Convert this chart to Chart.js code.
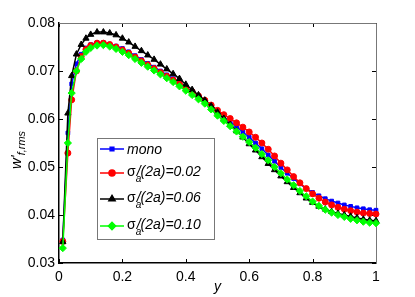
<!DOCTYPE html>
<html>
<head>
<meta charset="utf-8">
<script src="https://cdn.jsdelivr.net/npm/chart.js@4/dist/chart.umd.min.js"></script>
<style>
  html, body { margin: 0; padding: 0; background: #fff; }
  #wrap { width: 415px; height: 297px; position: relative; }
</style>
</head>
<body>
<div id="wrap"><canvas id="c"></canvas></div>
<script>
// wall-normal position y
const yPos = [0.012, 0.028, 0.04, 0.055, 0.07, 0.085, 0.10,
  0.12, 0.14, 0.16, 0.18, 0.20,
  0.22, 0.24, 0.26, 0.28, 0.30, 0.32, 0.34, 0.36, 0.38, 0.40,
  0.42, 0.44, 0.46, 0.48, 0.50,
  0.52, 0.54, 0.56, 0.58, 0.60, 0.62, 0.64, 0.66, 0.68, 0.70,
  0.72, 0.74, 0.76, 0.78, 0.80,
  0.82, 0.84, 0.86, 0.88, 0.90, 0.92, 0.94, 0.96, 0.98, 1.00];

const mono = [0.0348, 0.0571, 0.0673, 0.0715, 0.0735, 0.0748, 0.0755,
  0.0759, 0.0759, 0.0756, 0.0752, 0.0747,
  0.0740, 0.0732, 0.0724, 0.0716, 0.0708, 0.0700, 0.0692, 0.0684, 0.0675, 0.0666,
  0.0657, 0.0647, 0.0637, 0.0626, 0.0612,
  0.0604, 0.0594, 0.0584, 0.0573, 0.0562, 0.0550, 0.0538, 0.0525, 0.0512, 0.0499,
  0.0487, 0.0476, 0.0465, 0.0455, 0.0447,
  0.0440, 0.0434, 0.0429, 0.0425, 0.0421, 0.0418, 0.0415, 0.0413, 0.0411, 0.0410];

const sig002 = [0.0345, 0.0529, 0.0640, 0.0700, 0.0730, 0.0745, 0.0753,
  0.0758, 0.0758, 0.0755, 0.0750, 0.0744,
  0.0737, 0.0729, 0.0721, 0.0713, 0.0705, 0.0697, 0.0689, 0.0681, 0.0673, 0.0665,
  0.0657, 0.0648, 0.0639, 0.0629, 0.0618,
  0.0609, 0.0601, 0.0592, 0.0583, 0.0573, 0.0562, 0.0550, 0.0537, 0.0523, 0.0508,
  0.0494, 0.0480, 0.0467, 0.0455, 0.0444,
  0.0435, 0.0427, 0.0421, 0.0416, 0.0412, 0.0409, 0.0406, 0.0404, 0.0403, 0.0402];

const sig006 = [0.0344, 0.0612, 0.0690, 0.0735, 0.0755, 0.0768, 0.0776,
  0.0781, 0.0781, 0.0779, 0.0775, 0.0768,
  0.0760, 0.0751, 0.0742, 0.0733, 0.0724, 0.0714, 0.0704, 0.0694, 0.0684, 0.0672,
  0.0661, 0.0650, 0.0639, 0.0627, 0.0614,
  0.0601, 0.0588, 0.0575, 0.0562, 0.0548, 0.0535, 0.0521, 0.0507, 0.0494, 0.0481,
  0.0469, 0.0457, 0.0446, 0.0435, 0.0426,
  0.0418, 0.0412, 0.0407, 0.0403, 0.0400, 0.0397, 0.0394, 0.0391, 0.0389, 0.0388];

const sig010 = [0.0331, 0.0550, 0.0654, 0.0700, 0.0725, 0.0740, 0.0748,
  0.0753, 0.0754, 0.0751, 0.0746, 0.0740,
  0.0733, 0.0725, 0.0717, 0.0709, 0.0701, 0.0693, 0.0685, 0.0677, 0.0668, 0.0659,
  0.0650, 0.0641, 0.0632, 0.0620, 0.0607,
  0.0596, 0.0585, 0.0574, 0.0563, 0.0552, 0.0540, 0.0527, 0.0514, 0.0500, 0.0487,
  0.0474, 0.0462, 0.0450, 0.0439, 0.0428,
  0.0419, 0.0411, 0.0405, 0.0400, 0.0396, 0.0392, 0.0389, 0.0386, 0.0384, 0.0383];

const xTicks = [0, 0.2, 0.4, 0.6, 0.8, 1];
const yTicks = [0.03, 0.04, 0.05, 0.06, 0.07, 0.08];

const FONT = "'Liberation Sans', Arial, sans-serif";

const series = [
  { key: 'mono', data: mono, color: '#0000ff', style: 'rect', r: 2.6, order: 4 },
  { key: '0.02', data: sig002, color: '#ff0000', style: 'circle', r: 3, order: 3 },
  { key: '0.06', data: sig006, color: '#000000', style: 'triangle', r: 3.6, order: 2 },
  { key: '0.10', data: sig010, color: '#00ff00', style: 'rectRot', r: 3.6, order: 1 },
];

function toPoints(vals) {
  return yPos.map((x, i) => ({ x, y: vals[i] }));
}

// inward ticks on all four sides + box + axis titles + legend
const matlabFrame = {
  id: 'matlabFrame',
  beforeDatasetsDraw(chart) {
    const { ctx, chartArea: a, scales } = chart;
    ctx.save();
    ctx.strokeStyle = '#000';
    ctx.lineWidth = 1;
    ctx.beginPath();
    xTicks.forEach(v => {
      const px = Math.round(scales.x.getPixelForValue(v)) + 0.5;
      ctx.moveTo(px, a.bottom); ctx.lineTo(px, a.bottom - 4);
      ctx.moveTo(px, a.top); ctx.lineTo(px, a.top + 4);
    });
    yTicks.forEach(v => {
      const py = Math.round(scales.y.getPixelForValue(v)) + 0.5;
      ctx.moveTo(a.left, py); ctx.lineTo(a.left + 4, py);
      ctx.moveTo(a.right, py); ctx.lineTo(a.right - 4, py);
    });
    ctx.stroke();
    ctx.strokeStyle = '#777';
    ctx.beginPath();
    ctx.moveTo(a.left, a.top + 0.5); ctx.lineTo(a.right + 0.5, a.top + 0.5);
    ctx.lineTo(a.right + 0.5, a.bottom);
    ctx.stroke();
    ctx.restore();
  },
  afterDraw(chart) {
    const { ctx, chartArea: a } = chart;
    ctx.save();
    ctx.fillStyle = '#000';

    // x title
    ctx.font = 'italic 14px ' + FONT;
    ctx.textAlign = 'center';
    ctx.textBaseline = 'alphabetic';
    ctx.fillText('y', (a.left + a.right) / 2, 291);

    // y title, rotated
    ctx.translate(21, 150);
    ctx.rotate(-Math.PI / 2);
    ctx.textAlign = 'left';
    ctx.font = 'italic 15px ' + FONT;
    const w1 = ctx.measureText("w'").width;
    ctx.font = 'italic 11px ' + FONT;
    const w2 = ctx.measureText('f,rms').width;
    let x0 = -(w1 + w2) / 2;
    ctx.font = 'italic 15px ' + FONT;
    ctx.fillText("w'", x0, 0);
    ctx.font = 'italic 11px ' + FONT;
    ctx.fillText('f,rms', x0 + w1, 4);
    ctx.setTransform(1, 0, 0, 1, 0, 0);

    // legend
    const L = 97, T = 138, R = 214, B = 239;
    ctx.fillStyle = '#fff';
    ctx.fillRect(L, T, R - L, B - T);
    ctx.strokeStyle = '#777';
    ctx.lineWidth = 1;
    ctx.strokeRect(L + 0.5, T + 0.5, R - L, B - T);

    const rowY = [149, 173, 199, 226];
    series.forEach((s, i) => {
      const y = rowY[i];
      ctx.strokeStyle = s.color;
      ctx.lineWidth = 1.5;
      ctx.beginPath();
      ctx.moveTo(100, y); ctx.lineTo(124, y);
      ctx.stroke();
      ctx.fillStyle = s.color;
      Chart.helpers.drawPoint(ctx, { pointStyle: s.style, radius: s.r, borderWidth: 1 }, 112, y);
      ctx.fill();

      ctx.fillStyle = '#000';
      ctx.textBaseline = 'alphabetic';
      let tx = 127;
      const base = y + 5;
      if (s.key === 'mono') {
        ctx.font = 'italic 14px ' + FONT;
        ctx.fillText('mono', tx, base);
      } else {
        ctx.font = '14px ' + FONT;
        ctx.fillText('\u03c3', tx, base - 2);
        tx += ctx.measureText('\u03c3').width;
        ctx.font = 'italic 10px ' + FONT;
        ctx.fillText('a', tx, base + 4);
        ctx.font = 'italic 14px ' + FONT;
        ctx.fillText('/(2a)=' + s.key, tx + 1, base - 2);
      }
    });
    ctx.restore();
  }
};

new Chart(document.getElementById('c'), {
  type: 'scatter',
  data: {
    datasets: series.map(s => ({
      label: s.key,
      data: toPoints(s.data),
      showLine: true,
      borderColor: s.color,
      backgroundColor: s.color,
      pointBackgroundColor: s.color,
      pointBorderColor: s.color,
      pointStyle: s.style,
      pointRadius: s.r,
      pointBorderWidth: 1,
      borderWidth: 1.5,
      order: s.order,
      clip: false,
    })),
  },
  options: {
    responsive: true,
    maintainAspectRatio: false,
    animation: false,
    events: [],
    layout: { padding: { left: 0, top: 23, right: 39, bottom: 0 } },
    plugins: { legend: { display: false }, tooltip: { enabled: false } },
    scales: {
      x: {
        type: 'linear',
        min: 0, max: 1,
        afterFit: (s) => { s.height = 34; },
        afterBuildTicks: (s) => { s.ticks = xTicks.map(v => ({ value: v })); },
        grid: { display: false, drawTicks: false },
        border: { display: true, color: '#000', width: 1.5 },
        ticks: {
          padding: 6,
          color: '#000',
          font: { family: FONT, size: 14 },
          maxRotation: 0,
          callback: (v) => String(v),
        },
      },
      y: {
        type: 'linear',
        min: 0.03, max: 0.08,
        afterFit: (s) => { s.width = 59; },
        afterBuildTicks: (s) => { s.ticks = yTicks.map(v => ({ value: v })); },
        grid: { display: false, drawTicks: false },
        border: { display: true, color: '#000', width: 1.5 },
        ticks: {
          padding: 4,
          color: '#000',
          font: { family: FONT, size: 14 },
          callback: (v) => v.toFixed(2),
        },
      },
    },
  },
  plugins: [matlabFrame],
});
</script>
</body>
</html>
